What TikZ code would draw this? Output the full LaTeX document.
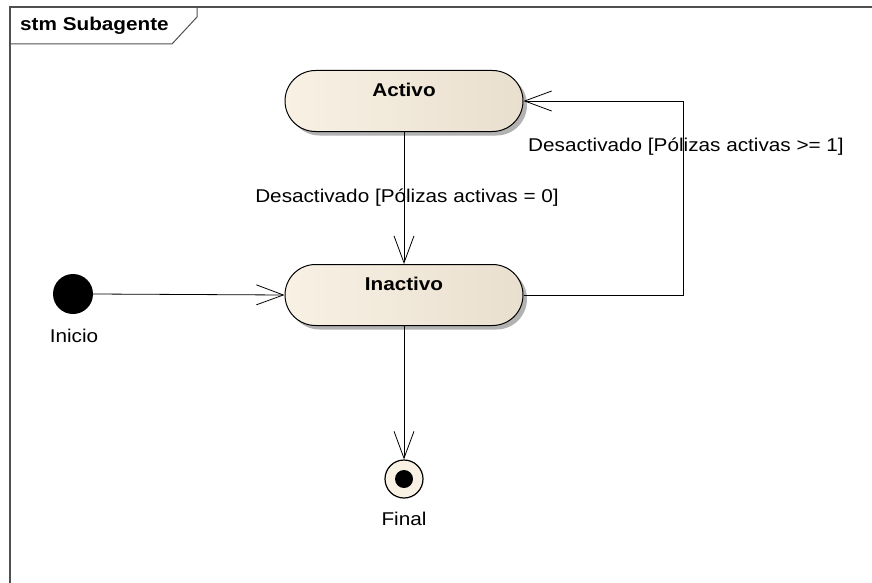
\documentclass[tikz,border=0pt]{standalone}
\usepackage{fontspec}
\setmainfont{Liberation Sans}[FakeStretch=1.12]
\usetikzlibrary{shapes.misc,shadows,arrows.meta}
\definecolor{stfillL}{HTML}{F8F1E4}
\definecolor{stfillR}{HTML}{E9DFCF}
\definecolor{framec}{HTML}{505050}
\begin{document}
\begin{tikzpicture}[x=1pt,y=-1pt,
  every node/.style={font=\fontsize{18.5}{22}\selectfont},
  statebox/.style={draw=black, line width=1pt, rounded rectangle,
    minimum width=238pt, minimum height=61pt, inner sep=0pt,
    left color=stfillL, right color=stfillR,
    general shadow={fill=black!30, shadow xshift=4pt, shadow yshift=-4pt}},
  trans/.style={draw=black, line width=0.8pt, -{Straight Barb[length=27pt,width=20pt,line width=0.8pt]}},
  lbl/.style={inner sep=0pt}]
\useasboundingbox (0,0) rectangle (872,583);
\fill[white] (0,0) rectangle (872,583);
% frame
\draw[framec, line width=1.2pt] (10,600) -- (10,7) -- (880,7);
\draw[framec, line width=1pt] (10,44) -- (172,44) -- (197,17) -- (197,7);
\node[lbl, anchor=west, font=\fontsize{18.5}{22}\selectfont\bfseries] (title) at (20,26) {stm Subagente};
% states
\node[statebox, label={[lbl,anchor=center,yshift=-19.5pt]north:{\bfseries Activo}}] (activo) at (404,101) {};
\node[statebox, label={[lbl,anchor=center,yshift=-19.5pt]north:{\bfseries Inactivo}}] (inactivo) at (404,295) {};
% initial and final
\node[circle, fill=black, minimum size=40pt, inner sep=0pt] (inicio) at (73,294) {};
\node[lbl] (inicioL) at (74,336) {Inicio};
\node[circle, draw=black, line width=1.2pt, fill=stfillL, minimum size=38pt, inner sep=0pt] (final) at (404,479) {};
\node[circle, fill=black, minimum size=18pt, inner sep=0pt] (finaldot) at (final.center) {};
\node[lbl] (finalL) at (404,519) {Final};
% corner coordinates
\coordinate (c1) at (683,295);
\coordinate (c2) at (683,101);
% transitions
\draw[trans] (inicio.east) -- (inactivo.west);
\draw[trans] (activo.south) -- (inactivo.north);
\draw[trans] (inactivo.south) -- (final.north);
\draw[trans] (inactivo.east) -- (c1) -- (c2) -- (activo.east);
\node[lbl] (l1) at (407,198) {Desactivado [Pólizas activas = 0]};
\node[lbl] (l2) at (686,147) {Desactivado [Pólizas activas >= 1]};
\end{tikzpicture}
\end{document}
